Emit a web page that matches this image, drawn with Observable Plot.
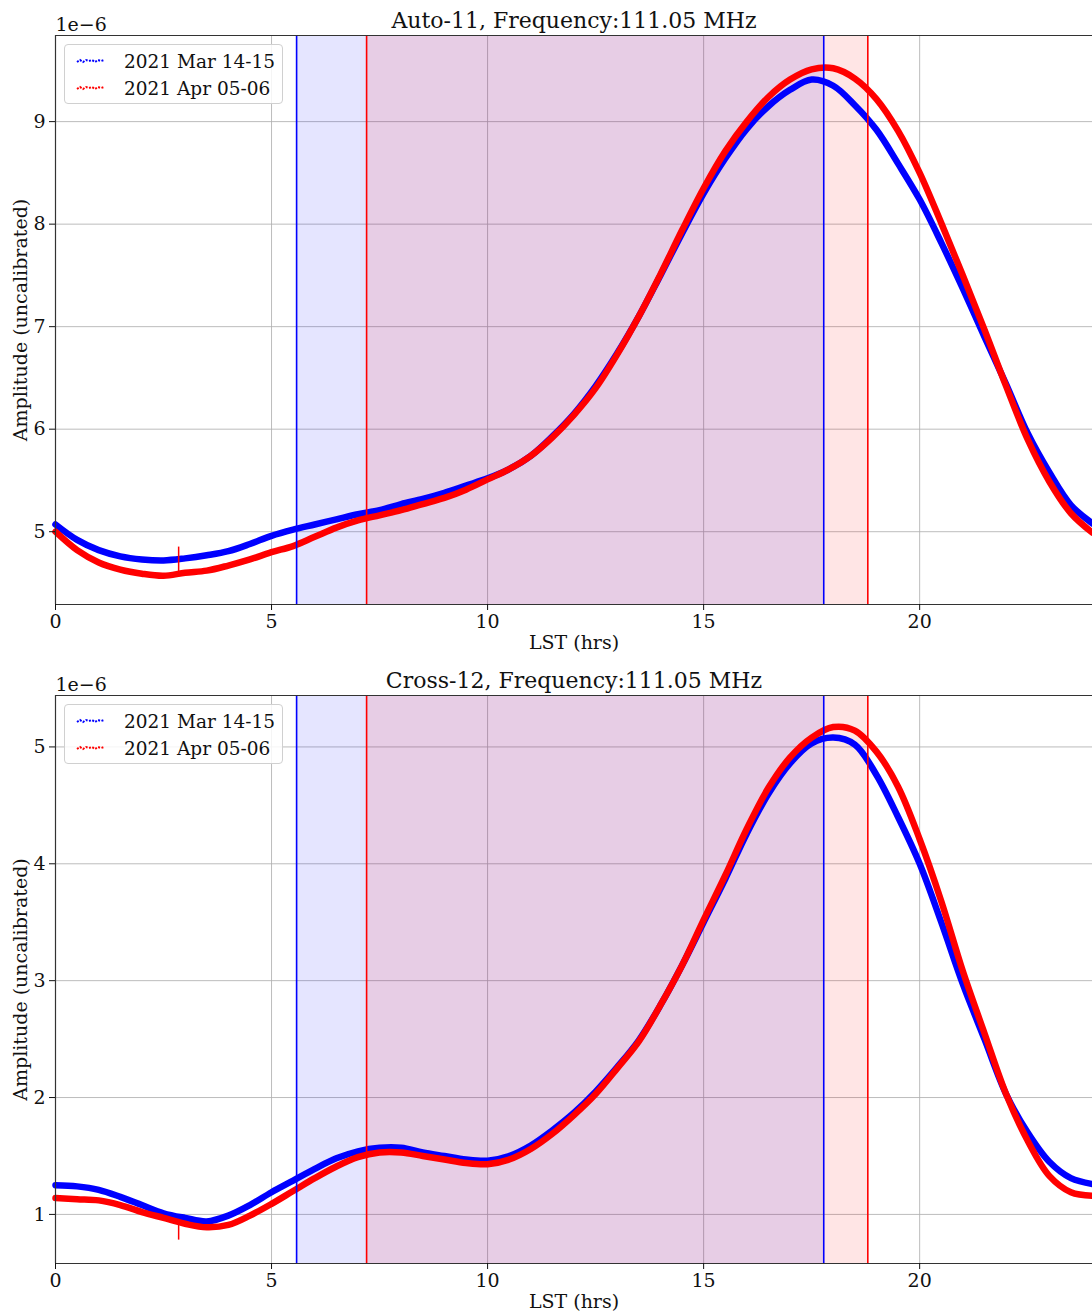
<!DOCTYPE html>
<html>
<head>
<meta charset="utf-8">
<script src="https://cdn.jsdelivr.net/npm/d3@7"></script>
<script src="https://cdn.jsdelivr.net/npm/@observablehq/plot@0.6"></script>
<style>
  html, body { margin: 0; padding: 0; background: #fff; }
  #root { width: 1092px; height: 1314px; position: relative; overflow: hidden; font-family: "DejaVu Serif", serif; }
  .panel { position: relative; width: 1092px; height: 657px; }
  .legend { position: absolute; left: 64px; width: 217px; height: 58px; border: 1px solid #d0d0d0; border-radius: 4px; background: rgba(255,255,255,0.85); font-family: "DejaVu Serif", serif; font-size: 18.5px; color: #111; }
  .legend .row { position: absolute; left: 0; height: 24px; display: flex; align-items: center; }
  .legend .row svg { margin-left: 11px; }
  .legend .row span { margin-left: 18px; white-space: nowrap; }
</style>
</head>
<body>
<div id="root"></div>
<script>
// ---------------- data (amplitudes in units of 1e-6) ----------------
const seriesNames = ["2021 Mar 14-15", "2021 Apr 05-06"];
const seriesColors = ["#0000ff", "#ff0000"];

const titles = ["Auto-11, Frequency:111.05 MHz", "Cross-12, Frequency:111.05 MHz"];
const xLabel = "LST (hrs)";
const yLabel = "Amplitude (uncalibrated)";
const offsetText = "1e\u22126";

const xTicks = [0, 5, 10, 15, 20];
const xDomain = [0, 24];

// LST sample hours (both panels)
const lst = [0, 0.5, 1, 1.5, 2, 2.5, 3, 3.5, 4, 4.5, 5, 5.5, 6, 6.5, 7, 7.5, 8, 8.5, 9, 9.5, 10, 10.5, 11, 11.5, 12, 12.5, 13, 13.5, 14, 14.5, 15, 15.5, 16, 16.5, 17, 17.5, 18, 18.5, 19, 19.5, 20, 20.5, 21, 21.5, 22, 22.5, 23, 23.5, 24];

// Auto-11 panel
const autoMar = [5.07, 4.92, 4.82, 4.76, 4.73, 4.72, 4.74, 4.77, 4.81, 4.88, 4.96, 5.02, 5.07, 5.12, 5.17, 5.21, 5.27, 5.32, 5.38, 5.45, 5.52, 5.61, 5.74, 5.93, 6.15, 6.42, 6.74, 7.10, 7.50, 7.91, 8.30, 8.64, 8.93, 9.15, 9.31, 9.41, 9.35, 9.16, 8.92, 8.59, 8.24, 7.82, 7.37, 6.90, 6.44, 5.96, 5.58, 5.26, 5.08];
const autoApr = [5.00, 4.82, 4.70, 4.63, 4.59, 4.57, 4.60, 4.62, 4.67, 4.73, 4.80, 4.86, 4.95, 5.04, 5.11, 5.16, 5.21, 5.27, 5.33, 5.41, 5.51, 5.61, 5.74, 5.92, 6.14, 6.40, 6.73, 7.10, 7.51, 7.94, 8.35, 8.71, 9.00, 9.24, 9.41, 9.51, 9.52, 9.42, 9.22, 8.91, 8.50, 8.01, 7.50, 6.97, 6.42, 5.90, 5.49, 5.18, 4.99];
const autoSpikeX = [2.85];
const autoSpikeLow = [4.60];
const autoSpikeHigh = [4.85];
const autoYDomain = [4.29, 9.84];
const autoYTicks = [5, 6, 7, 8, 9];

// Cross-12 panel
const crossMar = [1.25, 1.24, 1.21, 1.15, 1.08, 1.01, 0.97, 0.94, 0.99, 1.08, 1.19, 1.29, 1.39, 1.48, 1.54, 1.57, 1.57, 1.53, 1.50, 1.47, 1.46, 1.50, 1.59, 1.72, 1.87, 2.05, 2.26, 2.49, 2.79, 3.13, 3.50, 3.87, 4.26, 4.60, 4.86, 5.03, 5.08, 5.02, 4.76, 4.40, 4.00, 3.50, 2.97, 2.50, 2.03, 1.70, 1.45, 1.31, 1.26];
const crossApr = [1.14, 1.13, 1.12, 1.08, 1.02, 0.97, 0.92, 0.89, 0.91, 0.99, 1.09, 1.20, 1.31, 1.41, 1.49, 1.53, 1.53, 1.50, 1.47, 1.44, 1.43, 1.47, 1.56, 1.69, 1.85, 2.03, 2.25, 2.48, 2.79, 3.13, 3.52, 3.90, 4.30, 4.65, 4.91, 5.08, 5.17, 5.14, 4.96, 4.66, 4.21, 3.68, 3.08, 2.55, 2.03, 1.63, 1.33, 1.19, 1.16];
const crossSpikeX = [2.85];
const crossSpikeLow = [0.94];
const crossSpikeHigh = [0.78];
const crossYDomain = [0.58, 5.44];
const crossYTicks = [1, 2, 3, 4, 5];

// observing windows (LST hours): Mar run, Apr run
const spanStart = [5.58, 7.2];
const spanEnd = [17.78, 18.8];

// ---------------- drawing ----------------
const root = document.getElementById("root");
const FONT = "DejaVu Serif";

function makePanel(opts) {
  const {title, mar, apr, spikeX, spikeLow, spikeHigh, yDomain, yTicks, marginTop, marginBottom, legendTop} = opts;
  const rows = [];
  lst.forEach((h, i) => rows.push({lst: h, amp: mar[i], s: seriesNames[0]}));
  lst.forEach((h, i) => rows.push({lst: h, amp: apr[i], s: seriesNames[1]}));
  const spans = spanStart.map((a, i) => ({x1: a, x2: spanEnd[i], c: seriesColors[i]}));
  const edges = [];
  spans.forEach(sp => { edges.push({x: sp.x1, c: sp.c}); edges.push({x: sp.x2, c: sp.c}); });
  const spikes = spikeX.map((x, i) => ({x, y1: spikeLow[i], y2: spikeHigh[i]}));
  const fmt = d => String(d);

  const chart = Plot.plot({
    width: 1092,
    height: 657,
    marginLeft: 55,
    marginRight: 0,
    marginTop,
    marginBottom,
    style: {fontFamily: FONT, fontSize: "19px", color: "#111", background: "transparent", overflow: "visible"},
    x: {domain: xDomain, ticks: xTicks, label: null},
    y: {domain: yDomain, ticks: yTicks, label: null},
    color: {domain: seriesNames, range: seriesColors},
    marks: [
      Plot.gridX(xTicks, {stroke: "#b0b0b0", strokeOpacity: 0.85, strokeWidth: 1}),
      Plot.gridY(yTicks, {stroke: "#b0b0b0", strokeOpacity: 0.85, strokeWidth: 1}),
      Plot.rect(spans, {x1: "x1", x2: "x2", fill: "c", fillOpacity: 0.1}),
      Plot.line(rows, {x: "lst", y: "amp", z: "s", stroke: "s", strokeWidth: 6.5, curve: "catmull-rom", strokeLinecap: "round"}),
      Plot.ruleX(spikes, {x: "x", y1: "y1", y2: "y2", stroke: seriesColors[1], strokeWidth: 1.5}),
      Plot.ruleX(edges, {x: "x", stroke: "c", strokeWidth: 1.6}),
      Plot.ruleX([xDomain[0]], {stroke: "#333", strokeWidth: 1.2}),
      Plot.ruleY([yDomain[0]], {stroke: "#333", strokeWidth: 1.2}),
      Plot.ruleY([yDomain[1]], {stroke: "#333", strokeWidth: 1.2}),
      Plot.axisX({ticks: xTicks, tickSize: 6, tickPadding: 4, label: null, fontSize: 19, tickFormat: fmt}),
      Plot.axisY({ticks: yTicks, tickSize: 6, tickPadding: 4, label: null, fontSize: 19, tickFormat: fmt}),
      Plot.text([title], {frameAnchor: "top", dy: -15, fontSize: 22, lineAnchor: "middle", fill: "#111"}),
      Plot.text([offsetText], {frameAnchor: "top-left", dy: -11, fontSize: 19, textAnchor: "start", lineAnchor: "middle", fill: "#111"}),
      Plot.text([xLabel], {frameAnchor: "bottom", dy: 38, fontSize: 19, lineAnchor: "middle", fill: "#111"}),
      Plot.text([yLabel], {frameAnchor: "left", dx: -35, rotate: -90, fontSize: 19, textAnchor: "middle", lineAnchor: "middle", fill: "#111"})
    ]
  });

  const panel = document.createElement("div");
  panel.className = "panel";
  panel.appendChild(chart);

  const legend = document.createElement("div");
  legend.className = "legend";
  legend.style.top = legendTop + "px";
  seriesNames.forEach((name, i) => {
    const row = document.createElement("div");
    row.className = "row";
    row.style.top = (4 + i * 27) + "px";
    const ns = "http://www.w3.org/2000/svg";
    const sv = document.createElementNS(ns, "svg");
    sv.setAttribute("width", "30"); sv.setAttribute("height", "10");
    const pl = document.createElementNS(ns, "polyline");
    pl.setAttribute("points", "1,6 4,4 7,6 10,4 13,5 16,4 19,6 22,4 25,5 28,4");
    pl.setAttribute("fill", "none");
    pl.setAttribute("stroke", seriesColors[i]);
    pl.setAttribute("stroke-width", "2");
    pl.setAttribute("stroke-dasharray", "2 1.5");
    sv.appendChild(pl);
    row.appendChild(sv);
    const sp = document.createElement("span");
    sp.textContent = name;
    row.appendChild(sp);
    legend.appendChild(row);
  });
  panel.appendChild(legend);
  root.appendChild(panel);
}

makePanel({title: titles[0], mar: autoMar, apr: autoApr, spikeX: autoSpikeX, spikeLow: autoSpikeLow, spikeHigh: autoSpikeHigh, yDomain: autoYDomain, yTicks: autoYTicks, marginTop: 35, marginBottom: 53, legendTop: 44});
makePanel({title: titles[1], mar: crossMar, apr: crossApr, spikeX: crossSpikeX, spikeLow: crossSpikeLow, spikeHigh: crossSpikeHigh, yDomain: crossYDomain, yTicks: crossYTicks, marginTop: 38, marginBottom: 51, legendTop: 47});
</script>
</body>
</html>
